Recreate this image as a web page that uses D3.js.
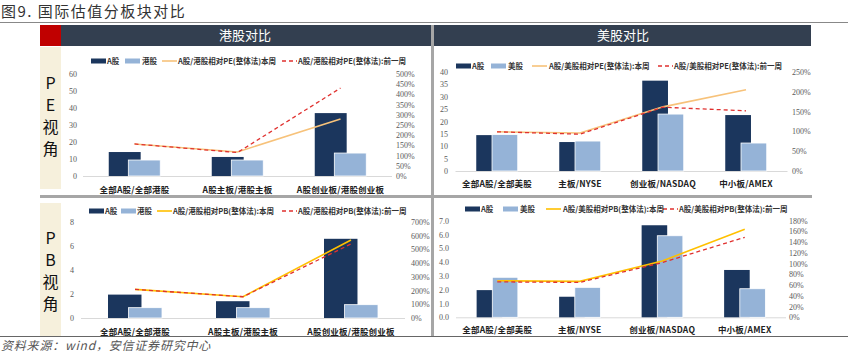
<!DOCTYPE html>
<html>
<head>
<meta charset="utf-8">
<script src="https://cdn.jsdelivr.net/npm/d3@7"></script>
<style>
  body { margin: 0; background: #fff; }
  svg { display: block; }
</style>
</head>
<body>
<svg id="chart" width="856" height="364"></svg>
<script>
// categories
const hkCategories = ["全部A股/全部港股", "A股主板/港股主板", "A股创业板/港股创业板"];
const usCategories = ["全部A股/全部美股", "主板/NYSE", "创业板/NASDAQ", "中小板/AMEX"];

// PE - 港股
const peHkA = [14.1, 11.2, 37.0];
const peHkH = [9.4, 9.4, 13.5];
const peHkNow = [1.57, 1.18, 2.79];
const peHkPrev = [1.57, 1.15, 4.31];

// PE - 美股
const peUsA = [14.5, 11.7, 36.5, 22.6];
const peUsU = [14.7, 12.1, 23.0, 11.3];
const peUsNow = [0.99, 0.96, 1.62, 2.05];
const peUsPrev = [0.99, 0.93, 1.61, 1.52];

// PB - 港股
const pbHkA = [1.95, 1.40, 6.60];
const pbHkH = [0.86, 0.86, 1.11];
const pbHkNow = [2.09, 1.55, 5.69];
const pbHkPrev = [2.09, 1.55, 5.40];

// PB - 美股
const pbUsA = [1.97, 1.49, 6.67, 3.43];
const pbUsU = [2.90, 2.17, 5.91, 2.07];
const pbUsNow = [0.68, 0.67, 1.05, 1.64];
const pbUsPrev = [0.66, 0.65, 1.02, 1.49];

// tick labels
const peHkLeftTicks = [0, 10, 20, 30, 40, 50, 60];
const peHkRightTicks = [0, 0.5, 1, 1.5, 2, 2.5, 3, 3.5, 4, 4.5, 5];
const peUsLeftTicks = [0, 5, 10, 15, 20, 25, 30, 35, 40];
const peUsRightTicks = [0, 0.5, 1, 1.5, 2, 2.5];
const pbHkLeftTicks = [0, 2, 4, 6, 8];
const pbHkRightTicks = [0, 1, 2, 3, 4, 5, 6, 7];
const pbUsLeftTicks = [0, 1, 2, 3, 4, 5, 6, 7];
const pbUsRightTicks = [0, 0.2, 0.4, 0.6, 0.8, 1, 1.2, 1.4, 1.6, 1.8];

const svg = d3.select("#chart");
const serif = "'Liberation Serif', 'Times New Roman', serif";
const cjk = "'Noto Sans CJK SC', 'Noto Sans', sans-serif";

const darkBlue = "#1b365d";
const lightBlue = "#95b3d7";
const redDash = "#e0312f";

// ---- page frame ----
svg.append("text")
    .attr("x", 1).attr("y", 17)
    .attr("font-family", cjk).attr("font-size", 15).attr("letter-spacing", 1.5)
    .attr("fill", "#333")
    .text("图9. 国际估值分板块对比");

svg.append("line").attr("x1", 0).attr("x2", 848).attr("y1", 22.5).attr("y2", 22.5)
    .attr("stroke", "#888").attr("stroke-width", 1);

// red corner + headers
svg.append("rect").attr("x", 40).attr("y", 25).attr("width", 21).attr("height", 21).attr("fill", "#c00000");
svg.append("rect").attr("x", 61).attr("y", 25).attr("width", 370).attr("height", 21).attr("fill", "#333f50");
svg.append("rect").attr("x", 434).attr("y", 25).attr("width", 377).attr("height", 21).attr("fill", "#333f50");
svg.append("text").attr("x", 245).attr("y", 40).attr("text-anchor", "middle")
    .attr("font-family", cjk).attr("font-size", 13).attr("fill", "#fff").text("港股对比");
svg.append("text").attr("x", 623).attr("y", 40).attr("text-anchor", "middle")
    .attr("font-family", cjk).attr("font-size", 13).attr("fill", "#fff").text("美股对比");

// beige side labels
svg.append("rect").attr("x", 40).attr("y", 47).attr("width", 21).attr("height", 142).attr("fill", "#f6f0dc");
svg.append("rect").attr("x", 40).attr("y", 203).attr("width", 21).attr("height", 133).attr("fill", "#f6f0dc");

const sideText = (chars, ys) => {
    chars.forEach((c, i) => {
        svg.append("text").attr("x", 50.5).attr("y", ys[i]).attr("text-anchor", "middle")
            .attr("font-family", cjk).attr("font-size", 16).attr("fill", "#111").text(c);
    });
};
sideText(["P", "E", "视", "角"], [89, 111, 133, 155]);
sideText(["P", "B", "视", "角"], [244, 266, 288, 310]);

// separators
svg.append("rect").attr("x", 431).attr("y", 25).attr("width", 3).attr("height", 312).attr("fill", "#a6a6a6");
svg.append("rect").attr("x", 40).attr("y", 195).attr("width", 772).attr("height", 3).attr("fill", "#a6a6a6");
svg.append("line").attr("x1", 0).attr("x2", 848).attr("y1", 336.5).attr("y2", 336.5)
    .attr("stroke", "#666").attr("stroke-width", 1.2);

svg.append("text")
    .attr("x", 1).attr("y", 350)
    .attr("font-family", cjk).attr("font-size", 12).attr("font-style", "italic")
    .attr("letter-spacing", 0.8).attr("fill", "#555")
    .text("资料来源：wind，安信证券研究中心");

// ---- one chart panel ----
function drawPanel(p) {
    const x = d3.scaleBand().domain(p.categories).range(p.xRange);
    const y = d3.scaleLinear().domain(p.leftDomain).range(p.yRange);
    const y2 = d3.scaleLinear().domain(p.rightDomain).range(p.yRange);
    const bw = x.bandwidth();
    const g = svg.append("g");

    // left axis
    g.append("g")
        .attr("transform", `translate(${p.leftAxisX},0)`)
        .call(d3.axisLeft(y).tickValues(p.leftTicks).tickFormat(p.leftFormat).tickSize(0).tickPadding(0))
        .call(a => a.select(".domain").remove())
        .call(a => a.selectAll("text").attr("font-family", serif).attr("font-size", 8).attr("fill", "#595959"));

    // right axis
    g.append("g")
        .attr("transform", `translate(${p.rightAxisX},0)`)
        .call(d3.axisRight(y2).tickValues(p.rightTicks).tickFormat(d3.format(".0%")).tickSize(0).tickPadding(0))
        .call(a => a.select(".domain").remove())
        .call(a => a.selectAll("text").attr("font-family", serif).attr("font-size", 8).attr("fill", "#595959"));

    // baseline
    g.append("line")
        .attr("x1", p.xRange[0]).attr("x2", p.xRange[1])
        .attr("y1", y(0) + 0.5).attr("y2", y(0) + 0.5)
        .attr("stroke", "#d9d9d9");

    // bars: A股 behind, other market overlapped in front
    g.selectAll(".barA").data(p.aValues).join("rect")
        .attr("x", (d, i) => x(p.categories[i]) + bw * 0.25)
        .attr("y", d => y(d))
        .attr("width", bw * 0.31)
        .attr("height", d => y(0) - y(d))
        .attr("fill", darkBlue);

    g.selectAll(".barB").data(p.bValues).join("rect")
        .attr("x", (d, i) => x(p.categories[i]) + bw * 0.44)
        .attr("y", d => y(d))
        .attr("width", bw * 0.31)
        .attr("height", d => y(0) - y(d))
        .attr("fill", lightBlue)
        .attr("stroke", "#fff").attr("stroke-width", 0.8);

    const line = d3.line()
        .x((d, i) => x(p.categories[i]) + bw / 2)
        .y(d => y2(d));

    g.append("path").datum(p.nowValues)
        .attr("d", line).attr("fill", "none")
        .attr("stroke", p.lineColor).attr("stroke-width", 1.6);

    g.append("path").datum(p.prevValues)
        .attr("d", line).attr("fill", "none")
        .attr("stroke", redDash).attr("stroke-width", 1.3)
        .attr("stroke-dasharray", "4,3");

    // category labels
    g.append("g")
        .attr("transform", `translate(0,${p.catY})`)
        .call(d3.axisBottom(x).tickSize(0).tickPadding(0))
        .call(a => a.select(".domain").remove())
        .call(a => a.selectAll("text").attr("font-family", cjk).attr("font-size", 8.5)
            .attr("font-weight", "bold").attr("letter-spacing", 0.2).attr("fill", "#222"));

    // legend
    const lg = g.append("g").attr("transform", `translate(0,${p.legendY})`);
    const L = p.legend;
    lg.append("rect").attr("x", L[0]).attr("y", -2.5).attr("width", 15).attr("height", 5).attr("fill", darkBlue);
    lg.append("rect").attr("x", L[2]).attr("y", -2.5).attr("width", 15).attr("height", 5).attr("fill", lightBlue);
    lg.append("line").attr("x1", L[4]).attr("x2", L[4] + 15).attr("y1", 0).attr("y2", 0)
        .attr("stroke", p.lineColor).attr("stroke-width", 1.6);
    lg.append("line").attr("x1", L[6]).attr("x2", L[6] + 15).attr("y1", 0).attr("y2", 0)
        .attr("stroke", redDash).attr("stroke-width", 1.3).attr("stroke-dasharray", "4,3");
    p.legendText.forEach((t, i) => {
        lg.append("text").attr("x", L[i * 2 + 1]).attr("y", 3)
            .attr("font-family", cjk).attr("font-size", 7.5).attr("font-weight", "bold")
            .attr("fill", "#333").text(t);
    });
}

drawPanel({
    categories: hkCategories,
    aValues: peHkA, bValues: peHkH, nowValues: peHkNow, prevValues: peHkPrev,
    xRange: [83, 392], yRange: [176, 74],
    leftDomain: [0, 60], rightDomain: [0, 5],
    leftTicks: peHkLeftTicks, rightTicks: peHkRightTicks, leftFormat: d3.format("d"),
    leftAxisX: 77, rightAxisX: 396, catY: 187,
    lineColor: "#f7c27a",
    legendY: 61, legend: [91, 107, 125, 142, 162, 178, 282, 298],
    legendText: ["A股", "港股", "A股/港股相对PE(整体法)本周", "A股/港股相对PE(整体法):前一周"]
});

drawPanel({
    categories: usCategories,
    aValues: peUsA, bValues: peUsU, nowValues: peUsNow, prevValues: peUsPrev,
    xRange: [455.5, 787.5], yRange: [171, 72],
    leftDomain: [0, 40], rightDomain: [0, 2.5],
    leftTicks: peUsLeftTicks, rightTicks: peUsRightTicks, leftFormat: d3.format("d"),
    leftAxisX: 448, rightAxisX: 792, catY: 181,
    lineColor: "#f7c27a",
    legendY: 66, legend: [456, 472, 491, 508, 532, 549, 658, 674],
    legendText: ["A股", "美股", "A股/美股相对PE(整体法):本周", "A股/美股相对PE(整体法):前一周"]
});

drawPanel({
    categories: hkCategories,
    aValues: pbHkA, bValues: pbHkH, nowValues: pbHkNow, prevValues: pbHkPrev,
    xRange: [81, 405], yRange: [318, 222],
    leftDomain: [0, 8], rightDomain: [0, 7],
    leftTicks: pbHkLeftTicks, rightTicks: pbHkRightTicks, leftFormat: d3.format("d"),
    leftAxisX: 74, rightAxisX: 411, catY: 329,
    lineColor: "#ffc000",
    legendY: 211, legend: [89, 105, 121, 137, 157, 173, 282, 298],
    legendText: ["A股", "港股", "A股/港股相对PB(整体法):本周", "A股/港股相对PB(整体法):前一周"]
});

drawPanel({
    categories: usCategories,
    aValues: pbUsA, bValues: pbUsU, nowValues: pbUsNow, prevValues: pbUsPrev,
    xRange: [456, 786], yRange: [317.3, 220.7],
    leftDomain: [0, 7], rightDomain: [0, 1.8],
    leftTicks: pbUsLeftTicks, rightTicks: pbUsRightTicks, leftFormat: d3.format(".1f"),
    leftAxisX: 449, rightAxisX: 789, catY: 327,
    lineColor: "#ffc000",
    legendY: 209, legend: [465, 481, 503, 520, 546, 563, 663, 679],
    legendText: ["A股", "美股", "A股/美股相对PB(整体法):本周", "A股/美股相对PB(整体法):前一周"]
});
</script>
</body>
</html>
